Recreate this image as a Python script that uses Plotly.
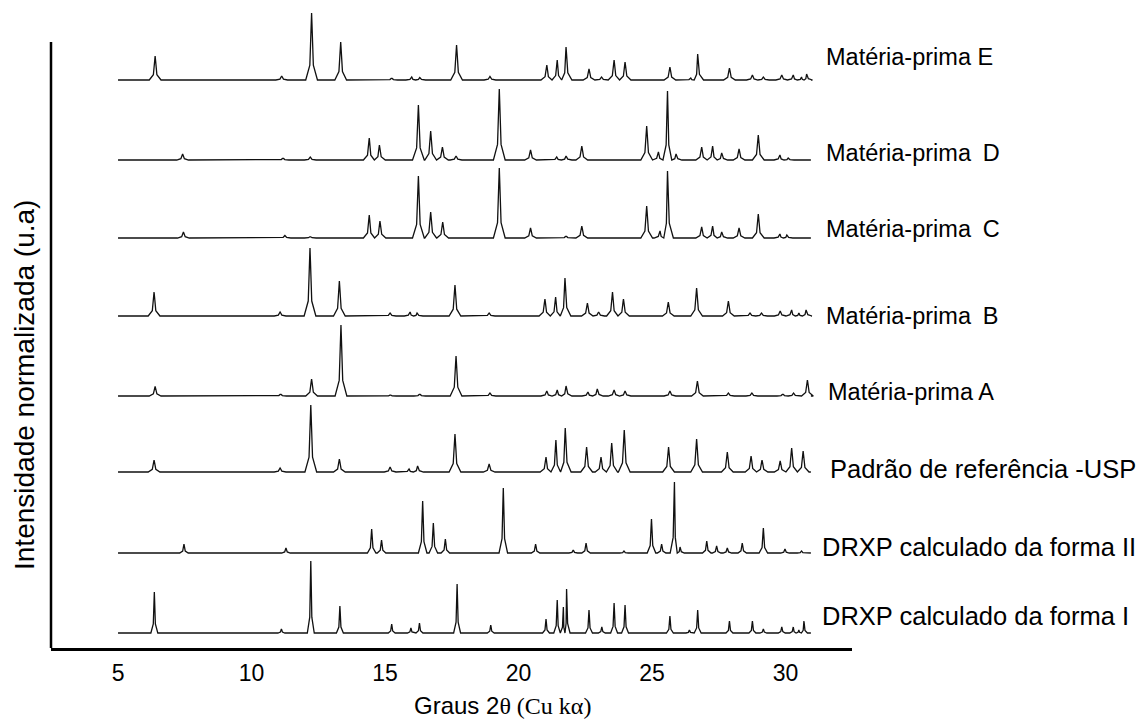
import plotly.graph_objects as go

# ---------------- data ----------------
scan_start = 5.0
scan_end = 30.95

names = [
    "DRXP calculado da forma I",
    "DRXP calculado da forma II",
    "Padrão de referência -USP",
    "Matéria-prima A",
    "Matéria-prima B",
    "Matéria-prima C",
    "Matéria-prima D",
    "Matéria-prima E",
]

form_I_pos = [6.36, 11.12, 12.22, 13.31, 15.25, 15.97, 16.29, 17.70, 18.96, 21.03, 21.45, 21.68, 21.80,
              22.64, 23.12, 23.58, 23.99, 25.67, 26.40, 26.71, 27.90, 28.76, 29.17, 29.86, 30.29, 30.50, 30.69]
form_I_h = [41, 4, 72, 27, 9, 5, 10, 49, 8, 14, 33, 26, 44,
            23, 6, 30, 28, 17, 3, 23, 12, 12, 4, 6, 6, 3, 12]

form_II_pos = [7.47, 11.29, 14.50, 14.87, 16.41, 16.81, 17.26, 19.43, 20.64, 22.05, 22.53, 23.95,
               24.98, 25.36, 25.84, 26.05, 27.05, 27.42, 27.82, 28.38, 29.17, 29.98, 30.60]
form_II_h = [9, 5, 24, 13, 52, 30, 14, 65, 9, 3, 10, 2,
             34, 9, 71, 6, 12, 7, 5, 10, 25, 4, 2]

usp_pos = [6.35, 11.07, 12.22, 13.29, 15.19, 15.90, 16.22, 17.62, 18.90, 21.03, 21.40, 21.75, 22.55,
           23.09, 23.49, 23.96, 25.62, 26.67, 27.82, 28.71, 29.12, 29.80, 30.23, 30.66]
usp_h = [12, 4, 67, 13, 5, 3, 6, 38, 8, 15, 32, 44, 25,
         15, 29, 42, 25, 33, 20, 16, 12, 11, 24, 21]

mp_A_pos = [6.39, 11.09, 12.25, 13.35, 15.20, 16.30, 17.66, 18.93, 21.06, 21.45, 21.78, 22.60, 22.95,
            23.58, 23.99, 25.67, 26.70, 27.86, 28.74, 29.90, 30.30, 30.82]
mp_A_h = [9.5, 2, 17, 71, 1, 2, 40, 3, 5, 6, 10, 4, 7,
          6, 5, 5, 15, 3, 3, 2, 3, 16]

mp_B_pos = [6.35, 11.07, 12.19, 13.29, 15.19, 15.94, 16.20, 17.62, 18.90, 20.99, 21.39, 21.74, 22.58,
            23.00, 23.52, 23.93, 25.61, 26.67, 27.86, 28.67, 29.10, 29.80, 30.23, 30.50, 30.77]
mp_B_h = [24, 4, 68, 35, 3, 4, 3, 31, 3, 17, 19, 38, 13,
          4, 24, 17, 14, 28, 15, 3, 3, 5, 6, 3, 6]

mp_C_pos = [7.45, 11.25, 12.20, 14.41, 14.81, 16.25, 16.71, 17.16, 19.28, 20.45, 21.78, 22.37,
            24.80, 25.30, 25.58, 26.86, 27.27, 27.61, 28.26, 28.98, 29.79, 30.05]
mp_C_h = [6, 2.5, 1.5, 23, 17, 62, 26, 16, 70, 10, 2, 12,
          32, 7, 67, 11, 12, 6, 10, 24, 4, 3]

mp_D_pos = [7.42, 11.18, 12.20, 14.41, 14.79, 16.25, 16.71, 17.15, 17.66, 19.28, 20.45, 21.43, 21.78,
            22.37, 24.80, 25.24, 25.58, 25.90, 26.86, 27.27, 27.61, 28.26, 28.98, 29.79, 30.10]
mp_D_h = [6, 2, 3, 22, 15, 55, 29, 13, 4, 71, 10, 3, 4,
          14, 34, 8, 69, 6, 13, 14, 7, 11, 25, 5, 2]

mp_E_pos = [6.39, 11.13, 12.25, 13.34, 15.25, 16.00, 16.30, 17.68, 18.93, 21.06, 21.45, 21.78, 22.64,
            23.11, 23.58, 23.99, 25.67, 26.45, 26.71, 27.90, 28.76, 29.17, 29.86, 30.29, 30.60, 30.79]
mp_E_h = [24, 4, 67, 38, 2, 3, 2.5, 35, 3.5, 15, 20, 33, 11,
          3, 20, 18, 13, 2, 26, 12, 5, 3, 5, 5, 3, 6]

tick_values = [5, 10, 15, 20, 25, 30]
tick_labels = ["5", "10", "15", "20", "25", "30"]

# ---------------- layout / style ----------------
W, H = 1145, 722
PL, PR, PT, PB = 51, 852, 5, 648           # plot area in pixels
x_range = [2.49, 32.49]
y_range = [0, PB - PT]
offsets = [15, 95, 176, 252, 332, 410, 488, 568]   # vertical stacking of the patterns
half_widths = [0.13, 0.16, 0.22, 0.22, 0.22, 0.22, 0.22, 0.22]

patterns = [
    (form_I_pos, form_I_h), (form_II_pos, form_II_h), (usp_pos, usp_h),
    (mp_A_pos, mp_A_h), (mp_B_pos, mp_B_h), (mp_C_pos, mp_C_h),
    (mp_D_pos, mp_D_h), (mp_E_pos, mp_E_h),
]


def outline(pos, hts, w, base):
    """Polyline through the peak feet and apexes (peaks drawn as narrow spikes)."""
    xs, ys = [scan_start], [base]
    n = len(pos)
    for i in range(n):
        p, h = pos[i], hts[i]
        wl = w if i == 0 else min(w, (p - pos[i - 1]) / 2)
        wr = w if i == n - 1 else min(w, (pos[i + 1] - p) / 2)
        xs += [p - wl, p - 0.3 * wl, p - 0.08 * wl, p, p + 0.08 * wr, p + 0.3 * wr, p + wr]
        ys += [base, base + 0.22 * h, base + 0.8 * h, base + h, base + 0.8 * h, base + 0.22 * h, base]
    xs.append(scan_end)
    ys.append(base)
    return xs, ys


def px2paper_x(px):
    return (px - PL) / (PR - PL)


def px2paper_y(py):
    return (PB - py) / (PB - PT)


fig = go.Figure()
for (pos, hts), off, w, name in zip(patterns, offsets, half_widths, names):
    xs, ys = outline(pos, hts, w, off)
    fig.add_trace(go.Scatter(x=xs, y=ys, mode="lines", name=name,
                             line=dict(color="#111111", width=1.3), showlegend=False,
                             hoverinfo="skip"))

SANS = "Liberation Sans, Arial, sans-serif"
SERIF = "Liberation Serif"

# right-hand labels: (pixel x, pixel y center, font size)
label_pos = [(820, 616, 25.5), (820, 547, 25.5), (828, 469, 25.5), (826, 392, 23.5),
             (824, 316, 23.5), (824, 229, 23.5), (824, 153, 23.5), (824, 57, 23.5)]
label_text = [names[0], names[1], names[2], names[3],
              "Matéria-prima\u2002B", "Matéria-prima\u2002C", "Matéria-prima\u2002D", names[7]]

annotations = []
for (lx, ly, fs), txt in zip(label_pos, label_text):
    annotations.append(dict(x=px2paper_x(lx), y=px2paper_y(ly), xref="paper", yref="paper",
                            text=txt, showarrow=False, xanchor="left", yanchor="middle",
                            font=dict(family=SANS, size=fs, color="black")))

annotations.append(dict(x=px2paper_x(502), y=px2paper_y(705), xref="paper", yref="paper",
                        text=f'Graus 2<span style="font-family:{SERIF}">θ (Cu kα)</span>',
                        showarrow=False, xanchor="center", yanchor="middle",
                        font=dict(family=SANS, size=24, color="black")))
annotations.append(dict(x=px2paper_x(24), y=px2paper_y(385), xref="paper", yref="paper",
                        text="Intensidade normalizada (u.a)", textangle=-90,
                        showarrow=False, xanchor="center", yanchor="middle",
                        font=dict(family=SANS, size=28, color="black")))

fig.update_layout(
    width=W, height=H,
    margin=dict(l=PL, r=W - PR, t=PT, b=H - PB, pad=0),
    paper_bgcolor="white", plot_bgcolor="white",
    xaxis=dict(range=x_range, tickvals=tick_values, ticktext=tick_labels, ticks="",
               showgrid=False, zeroline=False, showline=True, linecolor="black", linewidth=2.5,
               ticklabelstandoff=3,
               tickfont=dict(family=SANS, size=23, color="black")),
    yaxis=dict(range=y_range, showticklabels=False, ticks="", showgrid=False,
               zeroline=False, showline=False),
    annotations=annotations,
    shapes=[dict(type="line", xref="paper", yref="paper", x0=0, x1=0,
                 y0=0, y1=px2paper_y(42), line=dict(color="black", width=2.5))],
)

fig.write_html("out.html", config={"displayModeBar": False},
               post_script="document.body.style.margin='0';document.body.style.overflow='hidden';")
